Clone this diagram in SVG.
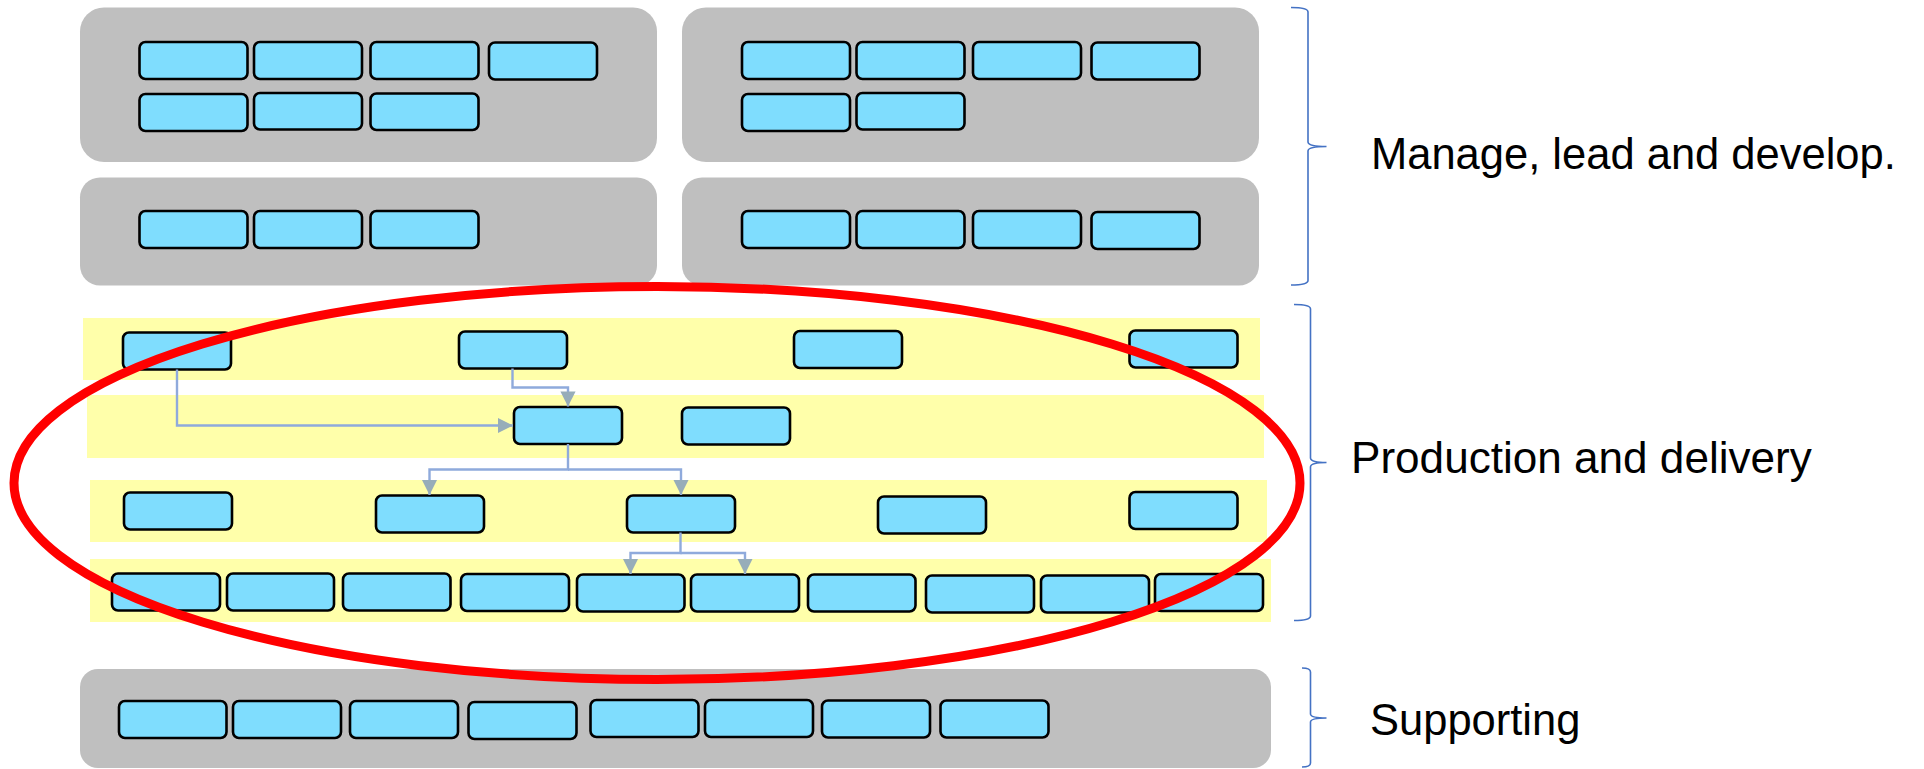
<svg xmlns="http://www.w3.org/2000/svg" width="1924" height="769" viewBox="0 0 1924 769">
<style>
.panel{fill:#BFBFBF;}
.band{fill:#FFFFAA;}
.box{fill:#7FDDFE;stroke:#000;stroke-width:2.6;}
.conn{fill:none;stroke:#8FAADC;stroke-width:2.4;}
.brace{fill:none;stroke:#4472C4;stroke-width:1.6;}
.lbl{font-family:"Liberation Sans",Arial,sans-serif;font-size:43.5px;fill:#000;}
</style>
<defs>
<marker id="ah" viewBox="0 0 10 10" refX="10" refY="5" markerWidth="6.3" markerHeight="6.5" markerUnits="strokeWidth" orient="auto">
<path d="M0,0 L10,5 L0,10 Z" fill="#97ADB9"/>
</marker>
</defs>
<rect width="1924" height="769" fill="#fff"/>

<g id="panels">
<rect class="panel" x="80" y="7.5" width="577" height="154.5" rx="24"/>
<rect class="panel" x="682" y="7.5" width="577" height="154.5" rx="24"/>
<rect class="panel" x="80" y="177.5" width="577" height="108" rx="20"/>
<rect class="panel" x="682" y="177.5" width="577" height="108" rx="20"/>
<rect class="panel" x="80" y="669" width="1191" height="99" rx="18"/>
</g>

<g id="bands">
<rect class="band" x="83" y="318" width="1177" height="62"/>
<rect class="band" x="87" y="395" width="1177" height="63"/>
<rect class="band" x="90" y="480" width="1177" height="62"/>
<rect class="band" x="90" y="559" width="1181" height="63"/>
</g>

<g id="manage-top-left">
<rect class="box" x="139.5" y="42" width="108" height="37" rx="6"/>
<rect class="box" x="254" y="42" width="108" height="37" rx="6"/>
<rect class="box" x="370.5" y="42" width="108" height="37" rx="6"/>
<rect class="box" x="489" y="42.5" width="108" height="37" rx="6"/>
<rect class="box" x="139.5" y="94" width="108" height="37" rx="6"/>
<rect class="box" x="254" y="93" width="108" height="36.5" rx="6"/>
<rect class="box" x="370.5" y="93.5" width="108" height="36.5" rx="6"/>
</g>
<g id="manage-top-right">
<rect class="box" x="742" y="42" width="108" height="37" rx="6"/>
<rect class="box" x="856.5" y="42" width="108" height="37" rx="6"/>
<rect class="box" x="973" y="42" width="108" height="37" rx="6"/>
<rect class="box" x="1091.5" y="42.5" width="108" height="37" rx="6"/>
<rect class="box" x="742" y="94" width="108" height="37" rx="6"/>
<rect class="box" x="856.5" y="93" width="108" height="36.5" rx="6"/>
</g>
<g id="manage-bottom-left">
<rect class="box" x="139.5" y="211" width="108" height="37" rx="6"/>
<rect class="box" x="254" y="211" width="108" height="37" rx="6"/>
<rect class="box" x="370.5" y="211" width="108" height="37" rx="6"/>
</g>
<g id="manage-bottom-right">
<rect class="box" x="742" y="211" width="108" height="37" rx="6"/>
<rect class="box" x="856.5" y="211" width="108" height="37" rx="6"/>
<rect class="box" x="973" y="211" width="108" height="37" rx="6"/>
<rect class="box" x="1091.5" y="212" width="108" height="37" rx="6"/>
</g>

<g id="prod-row1">
<rect id="nA" class="box" x="123" y="332.5" width="108" height="37" rx="6"/>
<rect id="nB" class="box" x="459" y="331.5" width="108" height="37" rx="6"/>
<rect id="nC" class="box" x="794" y="331" width="108" height="37" rx="6"/>
<rect id="nD" class="box" x="1129.5" y="330.5" width="108" height="37" rx="6"/>
</g>
<g id="prod-row2">
<rect id="nE" class="box" x="514" y="407" width="108" height="37" rx="6"/>
<rect id="nF" class="box" x="682" y="407.5" width="108" height="37" rx="6"/>
</g>
<g id="prod-row3">
<rect class="box" x="124" y="492.5" width="108" height="37" rx="6"/>
<rect id="nH" class="box" x="376" y="495.5" width="108" height="37" rx="6"/>
<rect id="nI" class="box" x="627" y="495.5" width="108" height="37" rx="6"/>
<rect class="box" x="878" y="496.5" width="108" height="37" rx="6"/>
<rect class="box" x="1129.5" y="492" width="108" height="37" rx="6"/>
</g>
<g id="prod-row4">
<rect class="box" x="112" y="573.5" width="108" height="37" rx="6"/>
<rect class="box" x="227" y="573.5" width="107" height="37" rx="6"/>
<rect class="box" x="343" y="573.5" width="107.5" height="37" rx="6"/>
<rect class="box" x="461" y="574" width="108" height="37" rx="6"/>
<rect class="box" x="577" y="574.5" width="107.5" height="37" rx="6"/>
<rect class="box" x="691" y="574.5" width="108" height="37" rx="6"/>
<rect class="box" x="808" y="574.5" width="107.5" height="37" rx="6"/>
<rect class="box" x="926" y="575.5" width="108" height="37" rx="6"/>
<rect class="box" x="1041" y="575.5" width="108" height="37" rx="6"/>
<rect class="box" x="1155" y="574" width="108" height="37" rx="6"/>
</g>

<g id="supporting">
<rect class="box" x="119" y="701" width="107.5" height="37" rx="6"/>
<rect class="box" x="233" y="701" width="108" height="37" rx="6"/>
<rect class="box" x="350" y="701" width="108" height="37" rx="6"/>
<rect class="box" x="468.5" y="702" width="108" height="37" rx="6"/>
<rect class="box" x="590.5" y="700" width="108" height="37" rx="6"/>
<rect class="box" x="705" y="700" width="108" height="37" rx="6"/>
<rect class="box" x="822" y="700.5" width="108" height="37" rx="6"/>
<rect class="box" x="940.5" y="700.5" width="108" height="37" rx="6"/>
</g>

<g id="connectors">
<path class="conn" d="M177,369.5 V425.5 H513" marker-end="url(#ah)"/>
<path class="conn" d="M512.5,368.5 V387.5 H568 V406.5" marker-end="url(#ah)"/>
<path class="conn" d="M568,444 V469.5 H429.5 V495" marker-end="url(#ah)"/>
<path class="conn" d="M568,469.5 H681 V495" marker-end="url(#ah)"/>
<path class="conn" d="M680.5,532.5 V553 H630.5 V574" marker-end="url(#ah)"/>
<path class="conn" d="M680.5,553 H745 V574" marker-end="url(#ah)"/>
</g>

<g id="braces">
<path class="brace" d="M1291,7.5 Q1308,7.5 1308,12 V142 Q1308,146.5 1326.5,146.5 Q1308,146.5 1308,151 V280.5 Q1308,285 1291,285"/>
<path class="brace" d="M1294,304.5 Q1310.5,304.5 1310.5,309 V458 Q1310.5,462.5 1326.5,462.5 Q1310.5,462.5 1310.5,467 V616 Q1310.5,620.5 1294,620.5"/>
<path class="brace" d="M1302,668 Q1310.5,668 1310.5,672 V714 Q1310.5,718 1326.5,718 Q1310.5,718 1310.5,722 V763 Q1310.5,767 1302,767"/>
</g>

<g id="labels">
<text class="lbl" x="1371" y="169">Manage, lead and develop.</text>
<text class="lbl" x="1351" y="473" style="font-size:44.1px">Production and delivery</text>
<text class="lbl" x="1370" y="735">Supporting</text>
</g>

<g id="highlight">
<ellipse cx="657" cy="483" rx="643" ry="196.5" fill="none" stroke="#FF0000" stroke-width="9"/>
</g>
</svg>
